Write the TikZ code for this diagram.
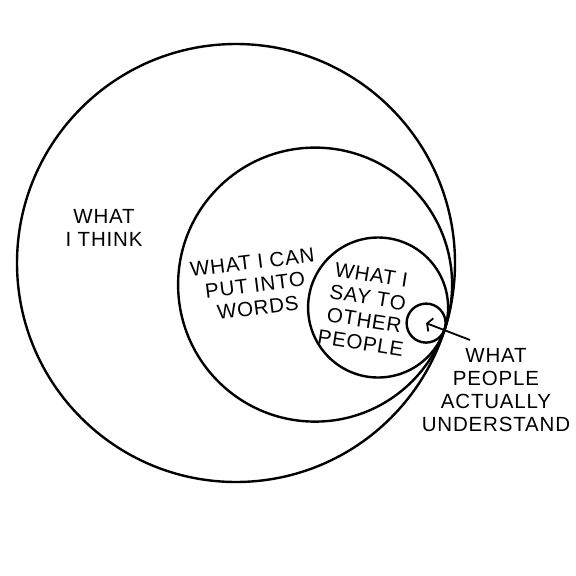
\documentclass[tikz,border=0pt]{standalone}
\usepackage{fontspec}
\setmainfont[LetterSpace=4]{Liberation Sans}
\usetikzlibrary{arrows.meta}
\begin{document}
\begin{tikzpicture}[x=1pt,y=-1pt,
  ring/.style={circle,draw,line width=2.4pt,inner sep=0pt,outer sep=0pt},
  lbl/.style={align=center,font=\fontsize{20.5}{23}\selectfont,inner sep=0pt}]
\useasboundingbox[fill=white] (0,0) rectangle (576,576);
\node[ring,minimum size=438pt] (think) at (236,263) {};
\node[ring,minimum size=274pt] (words) at (315.1,284.6) {};
\node[ring,minimum size=140pt] (say) at (378.1,307.5) {};
\node[ring,minimum size=39pt] (understood) at (426.1,323.1) {};
\node[lbl] (thinklbl) at (104,228) {WHAT\\I THINK};
\node[lbl,rotate=7] (wordslbl) at (255,285) {WHAT I CAN\\PUT INTO\\WORDS};
\node[lbl,rotate=-9] (saylbl) at (366,309) {WHAT I\\SAY TO\\OTHER\\PEOPLE};
\node[lbl] (understoodlbl) at (496,390) {WHAT\\PEOPLE\\ACTUALLY\\UNDERSTAND};
\coordinate (arrowstart) at (470,340);
\draw[line width=1.8pt,-{Straight Barb[length=4pt,width=14pt]}] (arrowstart) -- (understood.center);
\end{tikzpicture}
\end{document}
